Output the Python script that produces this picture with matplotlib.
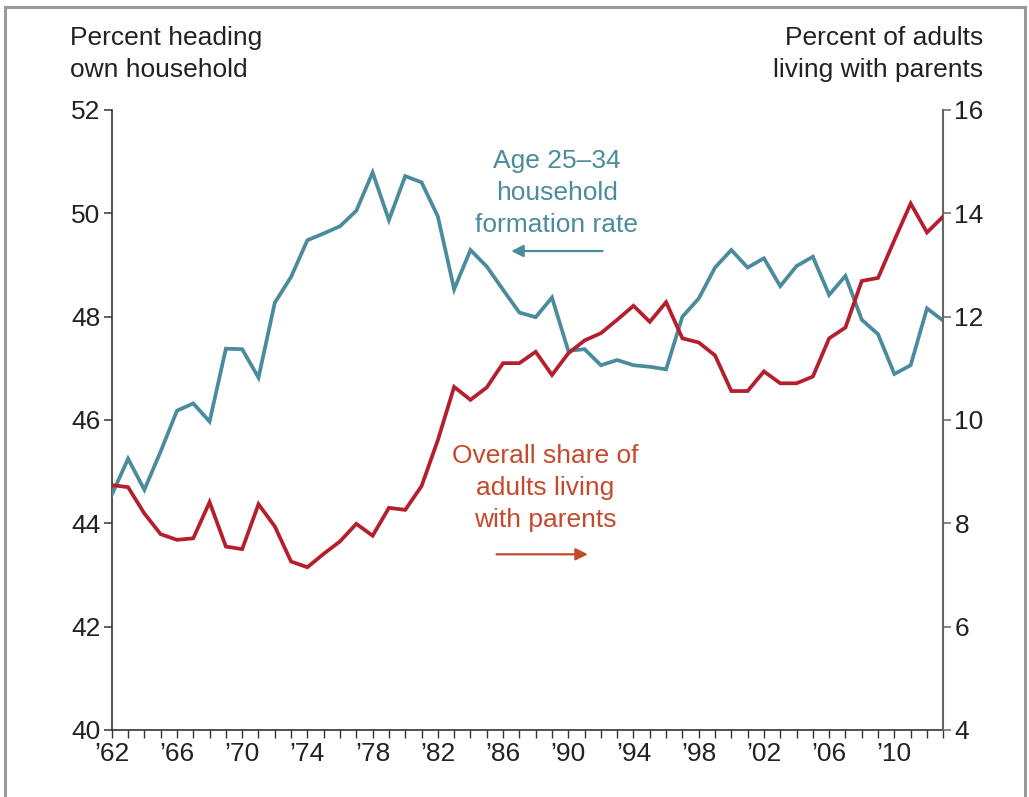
import numpy as np
import matplotlib.pyplot as plt
from matplotlib.lines import Line2D

plt.rcParams['font.family'] = ['Liberation Sans', 'DejaVu Sans']

BLUE = '#4a8b9d'
RED = '#b51f2d'
RED_TEXT = '#c44a2c'

years = list(range(1962, 2014))

# percent heading own household, age 25-34 (left axis)
formation_rate = [
    44.55, 45.25, 44.65, 45.39, 46.18, 46.32, 45.97, 47.38, 47.37, 46.82,
    48.27, 48.77, 49.48, 49.61, 49.75, 50.05, 50.79, 49.87, 50.72, 50.60,
    49.94, 48.53, 49.29, 48.97, 48.52, 48.08, 47.99, 48.37, 47.34, 47.37,
    47.06, 47.16, 47.06, 47.03, 46.98, 48.00, 48.35, 48.95, 49.29, 48.95,
    49.13, 48.59, 48.98, 49.16, 48.42, 48.79, 47.94, 47.66, 46.89, 47.06,
    48.16, 47.92,
]

# percent of adults living with parents (right axis)
with_parents = [
    8.74, 8.70, 8.19, 7.79, 7.68, 7.71, 8.41, 7.55, 7.50, 8.37,
    7.94, 7.26, 7.15, 7.41, 7.65, 7.99, 7.76, 8.30, 8.26, 8.72,
    9.61, 10.64, 10.39, 10.63, 11.10, 11.10, 11.32, 10.87, 11.29, 11.54,
    11.68, 11.94, 12.21, 11.90, 12.28, 11.58, 11.50, 11.25, 10.56, 10.56,
    10.94, 10.71, 10.71, 10.84, 11.58, 11.79, 12.69, 12.75, 13.48, 14.19,
    13.63, 13.94,
]

left_ticks = [40, 42, 44, 46, 48, 50, 52]
right_ticks = [4, 6, 8, 10, 12, 14, 16]
label_years = list(range(1962, 2011, 4))

FS = 19
LS = 1.42


def main():
    fig = plt.figure(figsize=(10.29, 7.97), dpi=100)
    ax = fig.add_axes([0.1086, 0.0841, 0.8081, 0.7779])
    ax2 = ax.twinx()

    ax.plot(years, formation_rate, color=BLUE, lw=2.7, solid_joinstyle='miter', zorder=3)
    ax2.plot(years, with_parents, color=RED, lw=2.7, solid_joinstyle='miter', zorder=3)

    ax.set_xlim(1962, 2013)
    ax.set_ylim(40, 52)
    ax2.set_ylim(4, 16)

    ax.set_yticks(left_ticks)
    ax2.set_yticks(right_ticks)
    ax.set_xticks(label_years)
    ax.set_xticklabels(["\u2019%02d" % (y % 100) for y in label_years])
    ax.set_xticks(years, minor=True)

    for a in (ax, ax2):
        a.spines['top'].set_visible(False)
    ax.spines['right'].set_visible(False)
    ax.spines['left'].set_color('#333333')
    ax.spines['bottom'].set_color('#333333')
    ax2.spines['left'].set_visible(False)
    ax2.spines['bottom'].set_visible(False)
    ax2.spines['right'].set_color('#666666')
    for s in ('left', 'bottom'):
        ax.spines[s].set_linewidth(1.2)
    ax2.spines['right'].set_linewidth(1.5)

    ax.tick_params(axis='y', length=6, width=1.1, color='#333333',
                   labelsize=FS, pad=2, labelcolor='#222222')
    ax.tick_params(axis='x', which='both', length=6, width=1.0, color='#333333',
                   labelsize=FS, pad=3, labelcolor='#222222')
    ax2.tick_params(axis='y', length=6, width=1.1, color='#666666',
                    labelsize=FS, pad=2, labelcolor='#222222')

    fig.text(70 / 1029, 1 - 54 / 797, 'Percent heading\nown household',
             ha='left', va='center', fontsize=FS, color='#222222', linespacing=LS)
    fig.text(983 / 1029, 1 - 54 / 797, 'Percent of adults\nliving with parents',
             ha='right', va='center', fontsize=FS, color='#222222', linespacing=LS)

    # annotations
    ax.text(1989.3, 50.39, 'Age 25\u201334\nhousehold\nformation rate',
            ha='center', va='center', fontsize=FS, color=BLUE, linespacing=LS)
    ax.annotate('', xy=(1986.5, 49.27), xytext=(1992.1, 49.27),
                arrowprops=dict(arrowstyle='-|>', color=BLUE, lw=1.6,
                                mutation_scale=18, shrinkA=0, shrinkB=0))
    ax2.text(1988.6, 8.68, 'Overall share of\nadults living\nwith parents',
             ha='center', va='center', fontsize=FS, color=RED_TEXT, linespacing=LS)
    ax2.annotate('', xy=(1991.2, 7.4), xytext=(1985.6, 7.4),
                 arrowprops=dict(arrowstyle='-|>', color=RED_TEXT, lw=1.6,
                                 mutation_scale=18, shrinkA=0, shrinkB=0))

    # gray frame around the figure
    fc = '#9a9a9a'
    fig.add_artist(Line2D([0.005, 0.005], [0, 1 - 7 / 797], color=fc, lw=2.2,
                          transform=fig.transFigure))
    fig.add_artist(Line2D([0.005, 0.996], [1 - 7 / 797, 1 - 7 / 797], color=fc, lw=2.2,
                          transform=fig.transFigure))
    fig.add_artist(Line2D([0.996, 0.996], [0, 1 - 7 / 797], color=fc, lw=2.2,
                          transform=fig.transFigure))

    fig.savefig('out.png', dpi=100)


if __name__ == '__main__':
    main()
